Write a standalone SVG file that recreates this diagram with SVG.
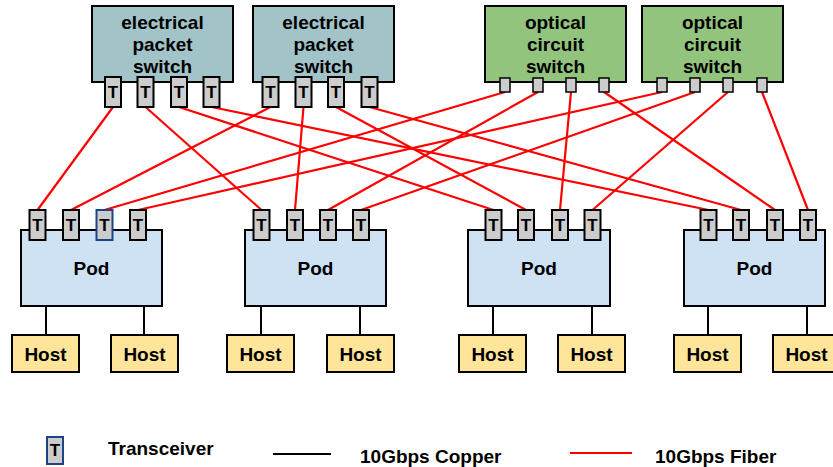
<svg xmlns="http://www.w3.org/2000/svg" width="833" height="467" viewBox="0 0 833 467">
  <style>
    text { font-family: "Liberation Sans", Arial, sans-serif; font-weight: bold; fill: #000; text-anchor: middle; }
    .lbl { font-size: 19px; }
    .box { stroke: #000; stroke-width: 2; }
    .eps { fill: #a2c4c9; }
    .ocs { fill: #93c47d; }
    .pod { fill: #cfe2f3; }
    .host { fill: #ffe599; }
    .xcvr { fill: #cccccc; stroke: #000; stroke-width: 2; }
    .xcvr.sel { stroke: #1c4587; }
    .port { fill: #cccccc; stroke: #000; stroke-width: 1.5; }
    .t { font-size: 17px; }
    .fiber { stroke: #ff0000; stroke-width: 2.2; fill: none; }
    .copper { stroke: #000; stroke-width: 2; fill: none; }
    .legend { font-size: 19px; text-anchor: start; }
  </style>
  <defs>
    <g id="tx">
      <rect class="xcvr" x="-8" y="-15" width="16" height="30"/>
      <text class="t" x="0" y="6">T</text>
    </g>
    <g id="tx-sel">
      <rect class="xcvr sel" x="-8" y="-15" width="16" height="30"/>
      <text class="t" x="0" y="6">T</text>
    </g>
    <rect id="op" class="port" x="-5" y="-7" width="10" height="14"/>
  </defs>

  <!-- fiber and copper links -->
  <g id="connectors">
    <!-- electrical packet switch 1 -->
    <line class="fiber" x1="113" y1="107" x2="37.5" y2="210"/>
    <line class="fiber" x1="145.5" y1="107" x2="261.5" y2="210"/>
    <line class="fiber" x1="179" y1="107" x2="493.5" y2="210"/>
    <line class="fiber" x1="211.5" y1="107" x2="708.5" y2="210"/>
    <!-- electrical packet switch 2 -->
    <line class="fiber" x1="270.5" y1="107" x2="71" y2="210"/>
    <line class="fiber" x1="303.5" y1="107" x2="295" y2="210"/>
    <line class="fiber" x1="336" y1="107" x2="526" y2="210"/>
    <line class="fiber" x1="369.5" y1="107" x2="741" y2="210"/>
    <!-- optical circuit switch 1 -->
    <line class="fiber" x1="505" y1="92" x2="104.5" y2="210"/>
    <line class="fiber" x1="538" y1="92" x2="328" y2="210"/>
    <line class="fiber" x1="571" y1="92" x2="560" y2="210"/>
    <line class="fiber" x1="604" y1="92" x2="775" y2="210"/>
    <!-- optical circuit switch 2 -->
    <line class="fiber" x1="662" y1="92" x2="138" y2="210"/>
    <line class="fiber" x1="695" y1="92" x2="361" y2="210"/>
    <line class="fiber" x1="728" y1="92" x2="592.5" y2="210"/>
    <line class="fiber" x1="762" y1="92" x2="808" y2="210"/>
    <!-- pod to host copper -->
    <line class="copper" x1="46" y1="306" x2="46" y2="335"/>
    <line class="copper" x1="144" y1="306" x2="144" y2="335"/>
    <line class="copper" x1="261" y1="306" x2="261" y2="335"/>
    <line class="copper" x1="360" y1="306" x2="360" y2="335"/>
    <line class="copper" x1="493" y1="306" x2="493" y2="335"/>
    <line class="copper" x1="592" y1="306" x2="592" y2="335"/>
    <line class="copper" x1="708" y1="306" x2="708" y2="335"/>
    <line class="copper" x1="807" y1="306" x2="807" y2="335"/>
  </g>

  <!-- switches -->
  <g id="eps1">
    <rect class="box eps" x="92" y="6" width="141" height="76"/>
    <text class="lbl" x="162.5" y="29">electrical</text>
    <text class="lbl" x="162.5" y="51">packet</text>
    <text class="lbl" x="162.5" y="73">switch</text>
    <use href="#tx" x="113" y="92"/>
    <use href="#tx" x="145.5" y="92"/>
    <use href="#tx" x="179" y="92"/>
    <use href="#tx" x="211.5" y="92"/>
  </g>
  <g id="eps2">
    <rect class="box eps" x="253" y="6" width="141" height="76"/>
    <text class="lbl" x="323.5" y="29">electrical</text>
    <text class="lbl" x="323.5" y="51">packet</text>
    <text class="lbl" x="323.5" y="73">switch</text>
    <use href="#tx" x="270.5" y="92"/>
    <use href="#tx" x="303.5" y="92"/>
    <use href="#tx" x="336" y="92"/>
    <use href="#tx" x="369.5" y="92"/>
  </g>
  <g id="ocs1">
    <rect class="box ocs" x="485" y="6" width="141" height="76"/>
    <text class="lbl" x="555.5" y="29">optical</text>
    <text class="lbl" x="555.5" y="51">circuit</text>
    <text class="lbl" x="555.5" y="73">switch</text>
    <use href="#op" x="505" y="85"/>
    <use href="#op" x="538" y="85"/>
    <use href="#op" x="571" y="85"/>
    <use href="#op" x="604" y="85"/>
  </g>
  <g id="ocs2">
    <rect class="box ocs" x="642" y="6" width="141" height="76"/>
    <text class="lbl" x="712.5" y="29">optical</text>
    <text class="lbl" x="712.5" y="51">circuit</text>
    <text class="lbl" x="712.5" y="73">switch</text>
    <use href="#op" x="662" y="85"/>
    <use href="#op" x="695" y="85"/>
    <use href="#op" x="728" y="85"/>
    <use href="#op" x="762" y="85"/>
  </g>

  <!-- pods -->
  <g id="pod1">
    <rect class="box pod" x="21" y="230" width="141" height="76"/>
    <text class="lbl" x="91.5" y="275">Pod</text>
    <use href="#tx" x="37.5" y="225"/>
    <use href="#tx" x="71" y="225"/>
    <use href="#tx-sel" x="104.5" y="225"/>
    <use href="#tx" x="138" y="225"/>
  </g>
  <g id="pod2">
    <rect class="box pod" x="245" y="230" width="141" height="76"/>
    <text class="lbl" x="315.5" y="275">Pod</text>
    <use href="#tx" x="261.5" y="225"/>
    <use href="#tx" x="295" y="225"/>
    <use href="#tx" x="328" y="225"/>
    <use href="#tx" x="361" y="225"/>
  </g>
  <g id="pod3">
    <rect class="box pod" x="468" y="230" width="142" height="76"/>
    <text class="lbl" x="539" y="275">Pod</text>
    <use href="#tx" x="493.5" y="225"/>
    <use href="#tx" x="526" y="225"/>
    <use href="#tx" x="560" y="225"/>
    <use href="#tx" x="592.5" y="225"/>
  </g>
  <g id="pod4">
    <rect class="box pod" x="684" y="230" width="141" height="76"/>
    <text class="lbl" x="754.5" y="275">Pod</text>
    <use href="#tx" x="708.5" y="225"/>
    <use href="#tx" x="741" y="225"/>
    <use href="#tx" x="775" y="225"/>
    <use href="#tx" x="808" y="225"/>
  </g>

  <!-- hosts -->
  <g id="host1"><rect class="box host" x="12" y="335" width="67" height="37"/><text class="lbl" x="45.5" y="361">Host</text></g>
  <g id="host2"><rect class="box host" x="111" y="335" width="67" height="37"/><text class="lbl" x="144.5" y="361">Host</text></g>
  <g id="host3"><rect class="box host" x="227" y="335" width="67" height="37"/><text class="lbl" x="260.5" y="361">Host</text></g>
  <g id="host4"><rect class="box host" x="327" y="335" width="67" height="37"/><text class="lbl" x="360.5" y="361">Host</text></g>
  <g id="host5"><rect class="box host" x="459" y="335" width="67" height="37"/><text class="lbl" x="492.5" y="361">Host</text></g>
  <g id="host6"><rect class="box host" x="558" y="335" width="67" height="37"/><text class="lbl" x="591.5" y="361">Host</text></g>
  <g id="host7"><rect class="box host" x="674" y="335" width="67" height="37"/><text class="lbl" x="707.5" y="361">Host</text></g>
  <g id="host8"><rect class="box host" x="773" y="335" width="67" height="37"/><text class="lbl" x="806.5" y="361">Host</text></g>

  <!-- legend -->
  <g id="legend">
    <rect class="xcvr sel" x="47" y="437" width="16" height="27"/>
    <text class="t" x="55" y="456">T</text>
    <text class="legend" x="108" y="455">Transceiver</text>
    <line class="copper" x1="273" y1="454" x2="331" y2="454"/>
    <text class="legend" x="360" y="463">10Gbps Copper</text>
    <line class="fiber" x1="570" y1="453" x2="632" y2="453"/>
    <text class="legend" x="655" y="463">10Gbps Fiber</text>
  </g>
</svg>
